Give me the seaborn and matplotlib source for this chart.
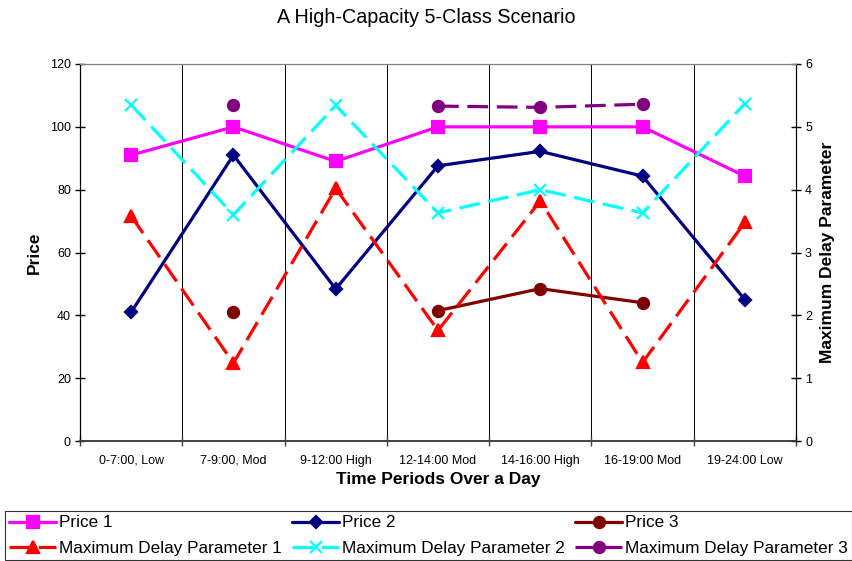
import numpy as np
import pandas as pd
import seaborn as sns
from matplotlib import pyplot as plt
from matplotlib.lines import Line2D

periods = ["0-7:00, Low", "7-9:00, Mod", "9-12:00 High", "12-14:00 Mod",
           "14-16:00 High", "16-19:00 Mod", "19-24:00 Low"]
price_1 = [91, 100, 89, 100, 100, 100, 84.3]
price_2 = [41, 91, 48.4, 87.6, 92.2, 84.3, 45]
price_3 = [np.nan, 41.2, np.nan, 41.5, 48.5, 44, np.nan]
delay_1 = [3.58, 1.24, 4.02, 1.76, 3.82, 1.25, 3.48]
delay_2 = [5.35, 3.6, 5.34, 3.63, 4.0, 3.63, 5.37]
delay_3 = [np.nan, 5.35, np.nan, 5.33, 5.31, 5.36, np.nan]

sns.set_style("ticks")
plt.rcParams['font.family'] = ['Liberation Sans', 'DejaVu Sans']
plt.rcParams.update({"text.color": "black", "axes.labelcolor": "black",
                     "xtick.color": "black", "ytick.color": "black"})

DASH = (0, (6.5, 2.7))


def draw(ax, values, color, marker, ms, dashed):
    # split on NaN so gaps are not bridged
    df = pd.DataFrame({"x": range(len(values)), "y": values})
    df["seg"] = df["y"].isna().cumsum()
    df = df.dropna()
    sns.lineplot(data=df, x="x", y="y", units="seg", estimator=None, ax=ax,
                 color=color, marker=marker, markersize=ms, markeredgecolor=color,
                 markeredgewidth=1.6, linewidth=2.3,
                 linestyle=DASH if dashed else "-", legend=False)
    return Line2D([], [], color=color, marker=marker, markersize=ms, markeredgecolor=color,
                  markeredgewidth=1.6, linewidth=2.3, linestyle=DASH if dashed else "-")


fig = plt.figure(figsize=(8.53, 5.61), dpi=100)
ax = fig.add_axes([80 / 853, 1 - 441 / 561, 716 / 853, 377 / 561])
ax2 = ax.twinx()

h_p1 = draw(ax, price_1, "#FF00FF", "s", 8.5, False)
h_p2 = draw(ax, price_2, "#000080", "D", 6, False)
h_p3 = draw(ax, price_3, "#800000", "o", 8, False)
h_d1 = draw(ax2, delay_1, "#FF0000", "^", 8.5, True)
h_d2 = draw(ax2, delay_2, "#00FFFF", "x", 9, True)
h_d3 = draw(ax2, delay_3, "#800080", "o", 8, True)

ax.set_xlim(-0.5, len(periods) - 0.5)
ax.set_ylim(0, 120)
ax.set_yticks(range(0, 121, 20))
ax2.set_ylim(0, 6)
ax2.set_yticks(range(0, 7))

# tick marks at period boundaries, labels centred on periods
ax.set_xticks(np.arange(-0.5, len(periods), 1))
ax.set_xticklabels([])
ax.set_xticks(range(len(periods)), minor=True)
ax.set_xticklabels(periods, minor=True)
ax.tick_params(axis="x", which="minor", length=0, labelsize=9, pad=10)
ax.tick_params(axis="x", which="major", direction="inout", length=7, width=1, color="#404040")
ax.tick_params(axis="y", labelsize=9, direction="inout", length=7, width=1, pad=3)
ax2.tick_params(axis="y", labelsize=9, direction="inout", length=7, width=1, pad=3)

for xb in np.arange(0.5, len(periods) - 1, 1):
    ax.axvline(xb, color="black", linewidth=0.7, zorder=0)

for a in (ax, ax2):
    a.spines["top"].set_color("#808080")
    a.spines["bottom"].set_color("#404040")
    a.spines["bottom"].set_linewidth(1.2)
    a.spines["left"].set_color("black")
    a.spines["right"].set_color("black")

ax.set_xlabel("Time Periods Over a Day", fontsize=12.5, fontweight="bold", labelpad=4)
ax.set_ylabel("Price", fontsize=12.5, fontweight="bold", labelpad=6)
ax2.set_ylabel("Maximum Delay Parameter", fontsize=12.5, fontweight="bold", labelpad=6)
fig.suptitle("A High-Capacity 5-Class Scenario", fontsize=14.2, y=0.985)

handles = [h_p1, h_d1, h_p2, h_d2, h_p3, h_d3]
labels = ["Price 1", "Maximum Delay Parameter 1", "Price 2",
          "Maximum Delay Parameter 2", "Price 3", "Maximum Delay Parameter 3"]
leg = fig.legend(handles, labels, ncol=3, mode="expand",
                 bbox_to_anchor=(5 / 853, 1 / 561, 847 / 853, 50 / 561), loc="lower left",
                 fontsize=12.3, frameon=True, fancybox=False, edgecolor="black",
                 handlelength=2.75, handletextpad=0.15, borderpad=0.25, labelspacing=0.6,
                 columnspacing=0.3, borderaxespad=0)
leg.get_frame().set_linewidth(0.8)

fig.savefig("out.png", dpi=100)
